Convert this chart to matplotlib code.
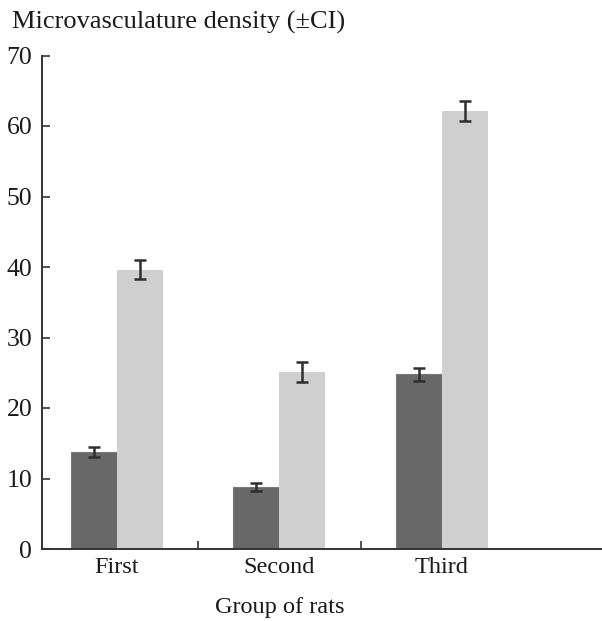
import matplotlib
matplotlib.use("Agg")
import matplotlib.pyplot as plt
import numpy as np

groups = ["First", "Second", "Third"]
dark_vals = [13.8, 8.8, 24.8]
dark_ci = [0.7, 0.6, 0.9]
light_vals = [39.6, 25.1, 62.1]
light_ci = [1.35, 1.4, 1.45]
yticks = [0, 10, 20, 30, 40, 50, 60, 70]

plt.rcParams['font.family'] = ['Liberation Serif', 'DejaVu Serif']

W, H = 602, 621
fig = plt.figure(figsize=(W/100, H/100), dpi=100)
ax = fig.add_axes([42/W, 1-549/H, 1-42/W, (549-55.5)/H])

x = np.arange(len(groups))
bw = 0.283
ax.bar(x - bw/2, dark_vals, bw, color='#686868', edgecolor='#7a7a7a', linewidth=0.8, zorder=2)
ax.bar(x + bw/2, light_vals, bw, color='#cfcfcf', edgecolor='none', zorder=2)
ax.errorbar(x - bw/2, dark_vals, yerr=dark_ci, fmt='none', ecolor='#2e2e2e',
            elinewidth=1.8, capsize=4.5, capthick=1.8, zorder=3)
ax.errorbar(x + bw/2, light_vals, yerr=light_ci, fmt='none', ecolor='#2e2e2e',
            elinewidth=1.8, capsize=4.5, capthick=1.8, zorder=3)

ax.set_xlim(-0.4615, 2.985)
ax.set_ylim(0, 70)
ax.set_yticks(yticks)
ax.set_yticklabels([str(v) for v in yticks])
ax.set_xticks(x)
ax.set_xticklabels(groups)
ax.set_xticks([0.5, 1.5], minor=True)

for s in ['top', 'right']:
    ax.spines[s].set_visible(False)
for s in ['left', 'bottom']:
    ax.spines[s].set_color('#333333')
    ax.spines[s].set_linewidth(1.4)

ax.tick_params(axis='y', direction='in', length=6, width=1.2, color='#333333',
               labelsize=18.5, pad=7, labelcolor='#1a1a1a')
ax.tick_params(axis='x', which='major', length=0, labelsize=17.5, pad=6, labelcolor='#1a1a1a')
ax.tick_params(axis='x', which='minor', direction='in', length=6, width=1.2, color='#333333')

fig.text(12/W, 1-22/H, "Microvasculature density (\u00b1CI)", fontsize=19,
         va='center', ha='left', color='#1a1a1a')
fig.text(280/W, 1-607/H, "Group of rats", fontsize=17.5, va='center', ha='center',
         color='#1a1a1a')

fig.savefig("out.png", dpi=100)
